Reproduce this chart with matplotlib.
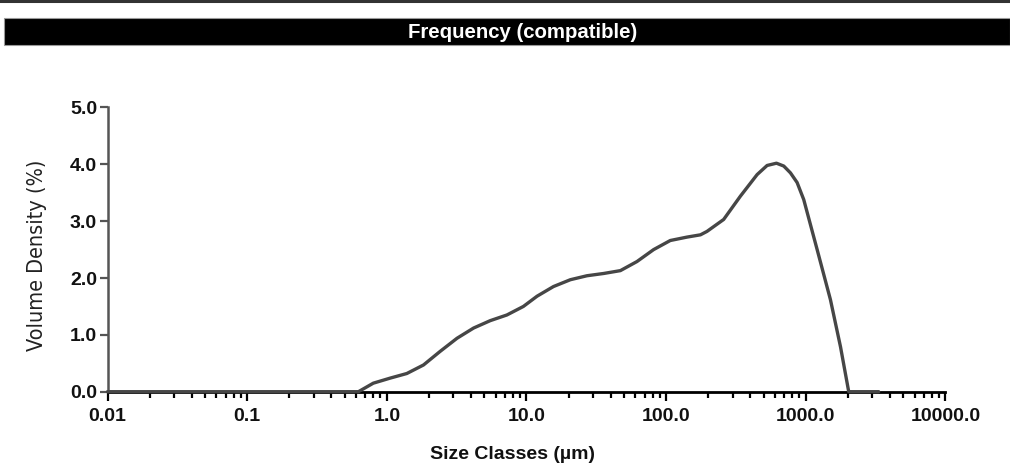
import matplotlib
matplotlib.use("Agg")
import matplotlib.pyplot as plt
from matplotlib.patches import Rectangle
from matplotlib.lines import Line2D
from matplotlib.ticker import FixedLocator, LogLocator, NullFormatter
import matplotlib.font_manager as fm

# ---- data ----
size_um = [0.01, 0.1, 0.5, 0.626, 0.80, 1.06, 1.39, 1.83, 2.41, 3.18, 4.18, 5.50,
           7.24, 9.5, 11.9, 15.6, 20.6, 27.1, 35.7, 47.0, 61.8, 81.3, 107, 141,
           176, 196, 258, 340, 448, 528, 616, 695, 776, 866, 966, 1205, 1500,
           1771, 2028, 3325]
volume_pct = [0.0, 0.0, 0.0, 0.0, 0.15, 0.24, 0.32, 0.47, 0.71, 0.94, 1.12, 1.25,
              1.35, 1.50, 1.68, 1.85, 1.97, 2.04, 2.08, 2.13, 2.29, 2.50, 2.66, 2.72,
              2.76, 2.82, 3.03, 3.44, 3.82, 3.98, 4.02, 3.97, 3.85, 3.68, 3.38, 2.50, 1.62,
              0.79, 0.0, 0.0]
y_ticks = [0.0, 1.0, 2.0, 3.0, 4.0, 5.0]
y_tick_labels = ["0.0", "1.0", "2.0", "3.0", "4.0", "5.0"]
x_ticks = [0.01, 0.1, 1.0, 10.0, 100.0, 1000.0, 10000.0]
x_tick_labels = ["0.01", "0.1", "1.0", "10.0", "100.0", "1000.0", "10000.0"]
title = "Frequency (compatible)"
x_label = "Size Classes (µm)"
y_label = "Volume Density (%)"


def find_narrow():
    prefs = ["Liberation Sans Narrow", "Arial Narrow"]
    fl = fm.fontManager.ttflist
    for p in prefs:
        for f in fl:
            if f.name == p and f.weight in (400, "normal", "regular") and f.style == "normal":
                return fm.FontProperties(fname=f.fname)
    for f in fl:
        if ("Condensed" in f.fname or "Narrow" in f.fname) and "Bold" not in f.fname \
                and "Oblique" not in f.fname and "Italic" not in f.fname \
                and "Mono" not in f.fname and "Serif" not in f.fname:
            return fm.FontProperties(fname=f.fname)
    return None


narrow_fp = find_narrow()

W, H = 1010, 465
fig = plt.figure(figsize=(W / 100, H / 100), dpi=100)

# top rule and title bar
fig.add_artist(Line2D([0, 1], [1 - 1.5 / H, 1 - 1.5 / H], color="#333333", lw=2.2))
fig.add_artist(Rectangle((4 / W, 1 - 45 / H), 1 - 4 / W, 27 / H, facecolor="black",
                         edgecolor="#999999", lw=0.8, transform=fig.transFigure))
fig.text(523 / W, 1 - 32 / H, title, color="white", ha="center", va="center",
         fontsize=14.7, fontweight="bold", family="Liberation Sans")

left, right, bottom, top = 107.5, 945.5, 391.7, 107.5
ax = fig.add_axes([left / W, 1 - bottom / H, (right - left) / W, (bottom - top) / H])
ax.plot(size_um, volume_pct, color="#464646", lw=2.4, solid_capstyle="round",
        solid_joinstyle="round", zorder=3, clip_on=False)
ax.set_xscale("log")
ax.set_xlim(0.01, 10000)
ax.set_ylim(0, 5)

ax.spines["top"].set_visible(False)
ax.spines["right"].set_visible(False)
ax.spines["left"].set_color("#555555")
ax.spines["left"].set_linewidth(1.8)
ax.spines["bottom"].set_color("black")
ax.spines["bottom"].set_linewidth(2.0)

ax.xaxis.set_major_locator(FixedLocator(x_ticks))
ax.set_xticklabels(x_tick_labels)
ax.xaxis.set_minor_locator(LogLocator(base=10, subs=range(2, 10), numticks=20))
ax.xaxis.set_minor_formatter(NullFormatter())
ax.set_yticks(y_ticks)
ax.set_yticklabels(y_tick_labels)

ax.tick_params(axis="x", which="major", direction="out", length=6.5, width=1.6, color="black",
               pad=5, labelsize=14)
ax.tick_params(axis="x", which="minor", direction="out", length=4.5, width=1.6, color="black")
ax.tick_params(axis="y", which="major", direction="out", length=6, width=1.6, color="#555555",
               pad=1.5, labelsize=14)
for lab in ax.get_xticklabels() + ax.get_yticklabels():
    lab.set_fontweight("bold")
    lab.set_family("Liberation Sans")
    lab.set_color("#111111")

fig.text(512 / W, 1 - 454 / H, x_label, ha="center", va="center", fontsize=14,
         fontweight="bold", family="Liberation Sans", color="#111111")
if narrow_fp is not None:
    fp = narrow_fp.copy()
    fp.set_size(15.5)
    fig.text(37 / W, 1 - 255 / H, y_label, ha="center", va="center", rotation=90,
             fontproperties=fp, color="#222222")
else:
    fig.text(37 / W, 1 - 255 / H, y_label, ha="center", va="center", rotation=90,
             fontsize=15.2, family="Liberation Sans", color="#222222")

fig.savefig("out.png", dpi=100, facecolor="white")
